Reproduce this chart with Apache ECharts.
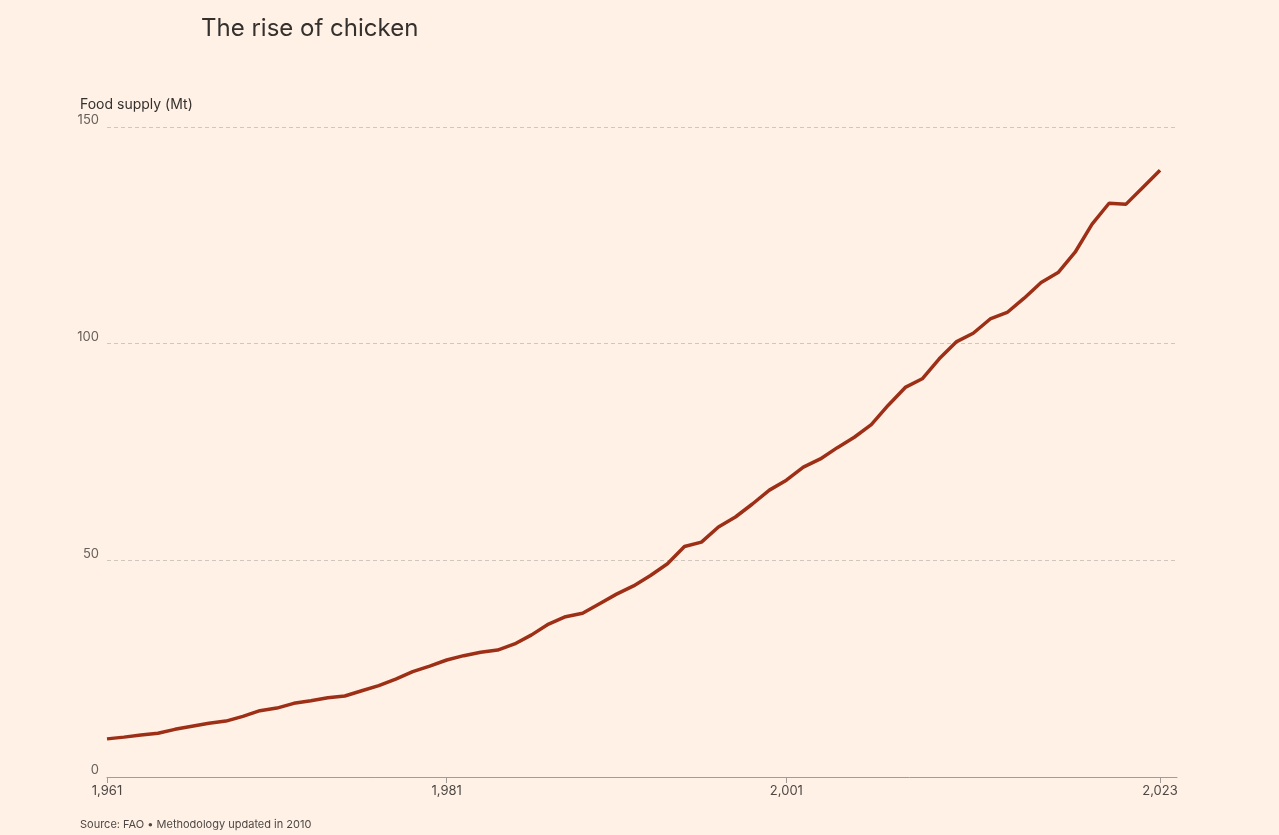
<!DOCTYPE html>
<html>
<head>
<meta charset="utf-8" />
<title>The rise of chicken</title>
<script src="https://cdn.jsdelivr.net/npm/echarts@6/dist/echarts.min.js"></script>
<style>
  html, body { margin: 0; padding: 0; background: #FFF1E5; }
  #main { width: 1279px; height: 835px; }
</style>
</head>
<body>
<div id="main"></div>
<script>
var years = [];
for (var y = 1961; y <= 2023; y++) years.push(y);
var supply = [8.8, 9.2, 9.7, 10.1, 11.0, 11.7, 12.4, 12.9, 14.0, 15.3,
  15.9, 17.0, 17.6, 18.3, 18.7, 19.9, 21.1, 22.6, 24.3, 25.6,
  27.0, 28.0, 28.8, 29.3, 30.7, 32.8, 35.3, 37.0, 37.8, 40.0,
  42.2, 44.1, 46.5, 49.2, 53.2, 54.2, 57.7, 60.0, 63.0, 66.2,
  68.5, 71.5, 73.4, 76.0, 78.4, 81.3, 85.8, 89.9, 91.9, 96.5,
  100.4, 102.4, 105.7, 107.2, 110.5, 114.1, 116.4, 121.1, 127.6, 132.4,
  132.2, 136.1, 140.0];
var xTicks = [1961, 1981, 2001, 2023];

var chart = echarts.init(document.getElementById('main'));
var font = 'Inter, "Noto Sans", sans-serif';
chart.setOption({
  backgroundColor: '#FFF1E5',
  animation: false,
  title: [
    { text: 'The rise of chicken', left: 196, top: 12,
      textStyle: { fontFamily: font, fontSize: 24, fontWeight: 'normal', color: '#33302E' } },
    { text: 'Food supply (Mt)', left: 75, top: 93,
      textStyle: { fontFamily: font, fontSize: 14, fontWeight: 'normal', color: '#33302E' } },
    { text: 'Source: FAO \u2022 Methodology updated in 2010', left: 75, top: 814,
      textStyle: { fontFamily: font, fontSize: 11, fontWeight: 'normal', color: '#4d4845' } }
  ],
  grid: { left: 107, right: 102, top: 127, bottom: 58 },
  xAxis: {
    type: 'value', min: 1961, max: 2024,
    axisLine: { lineStyle: { color: '#a39c95' } },
    axisTick: { show: true, customValues: xTicks, length: 6, lineStyle: { color: '#a39c95' } },
    axisLabel: { customValues: xTicks, color: '#4d4845', fontFamily: font, fontSize: 13, margin: 8 },
    splitLine: { show: false }
  },
  yAxis: {
    type: 'value', min: 0, max: 150, interval: 50,
    axisLine: { show: false },
    axisTick: { show: false },
    axisLabel: { color: '#66605C', fontFamily: font, fontSize: 13, margin: 8, verticalAlign: 'bottom' },
    splitLine: { lineStyle: { color: '#cfc6bd', type: [4, 3] } }
  },
  series: [{
    type: 'line',
    data: years.map(function (yr, i) { return [yr, supply[i]]; }),
    showSymbol: false,
    lineStyle: { color: '#9E2F17', width: 3.5 }
  }]
});
</script>
</body>
</html>
